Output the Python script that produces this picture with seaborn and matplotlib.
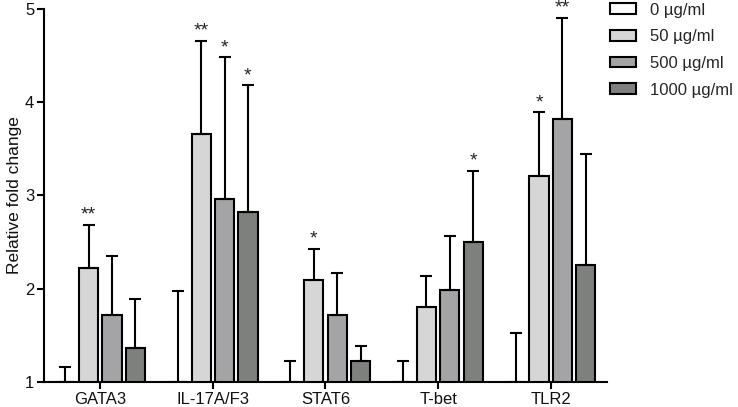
import matplotlib as mpl
mpl.use('Agg')
import matplotlib.pyplot as plt
import numpy as np
import pandas as pd
import seaborn as sns

genes = ["GATA3", "IL-17A/F3", "STAT6", "T-bet", "TLR2"]
doses = ["0 µg/ml", "50 µg/ml", "500 µg/ml", "1000 µg/ml"]

# mean fold change per dose, one list per gene
means = {
    "GATA3":     [1.00, 2.22, 1.72, 1.37],
    "IL-17A/F3": [1.00, 3.66, 2.96, 2.82],
    "STAT6":     [1.00, 2.09, 1.72, 1.22],
    "T-bet":     [1.00, 1.80, 1.99, 2.50],
    "TLR2":      [1.00, 3.21, 3.82, 2.25],
}
# top of the error bar
err_tops = {
    "GATA3":     [1.16, 2.68, 2.35, 1.89],
    "IL-17A/F3": [1.98, 4.66, 4.48, 4.18],
    "STAT6":     [1.23, 2.43, 2.17, 1.39],
    "T-bet":     [1.23, 2.14, 2.57, 3.26],
    "TLR2":      [1.53, 3.89, 4.90, 3.45],
}
stars = {
    "GATA3":     ["", "**", "", ""],
    "IL-17A/F3": ["", "**", "*", "*"],
    "STAT6":     ["", "*", "", ""],
    "T-bet":     ["", "", "", "*"],
    "TLR2":      ["", "*", "**", ""],
}

colors = ["#ffffff", "#d6d6d6", "#a4a4a6", "#7e807e"]
SPINE_LW = 1.5

sns.set_style("ticks")
plt.rcParams['font.family'] = ['Liberation Sans', 'DejaVu Sans']

rows = []
for g in genes:
    for d, m in zip(doses, means[g]):
        rows.append({"gene": g, "dose": d, "value": m})
df = pd.DataFrame(rows)

fig = plt.figure(figsize=(7.38, 4.07), dpi=100)
ax = fig.add_axes([0.0596, 0.0614, 0.7629, 0.9166])

sns.barplot(data=df, x="gene", y="value", hue="dose", order=genes, hue_order=doses,
            palette=colors, edgecolor="black", linewidth=SPINE_LW,
            width=0.83, gap=0.18, errorbar=None, ax=ax)

# error bars (upper only) and significance stars
bars = [p for p in ax.patches if p.get_width() > 0]
bars.sort(key=lambda p: p.get_x())
i = 0
for g in genes:
    for j in range(len(doses)):
        p = bars[i]
        i += 1
        xc = p.get_x() + p.get_width() / 2
        m = means[g][j]
        top = err_tops[g][j]
        ax.errorbar(xc, m, yerr=[[0], [top - m]], fmt="none", ecolor="black",
                    elinewidth=SPINE_LW, capsize=4, capthick=SPINE_LW, zorder=1)
        if stars[g][j]:
            ax.annotate(stars[g][j], (xc, top), xytext=(0, 1), textcoords="offset points",
                        ha="center", va="bottom", fontsize=14, color="#222222")

ax.set_ylim(1, 5)
ax.set_xlim(-0.5, 4.5)
ax.set_yticks([1, 2, 3, 4, 5])
ax.set_xlabel("")
ax.set_ylabel("Relative fold change", fontsize=12.5, color="#111111", labelpad=2)
ax.tick_params(axis="both", labelsize=12, width=SPINE_LW, length=5, colors="black",
               labelcolor="#111111")
ax.tick_params(axis="x", pad=2)
ax.tick_params(axis="y", pad=2)

for spine in ["top", "right"]:
    ax.spines[spine].set_visible(False)
for spine in ["left", "bottom"]:
    ax.spines[spine].set_linewidth(SPINE_LW)
    ax.spines[spine].set_color("black")

handles, labels = ax.get_legend_handles_labels()
ax.legend(handles, labels, loc="upper left", bbox_to_anchor=(0.993, 1.035),
          frameon=False, fontsize=12, handlelength=1.6, handleheight=0.6,
          labelspacing=0.7, handletextpad=0.8, borderaxespad=0)

plt.savefig("out.png", dpi=100)
